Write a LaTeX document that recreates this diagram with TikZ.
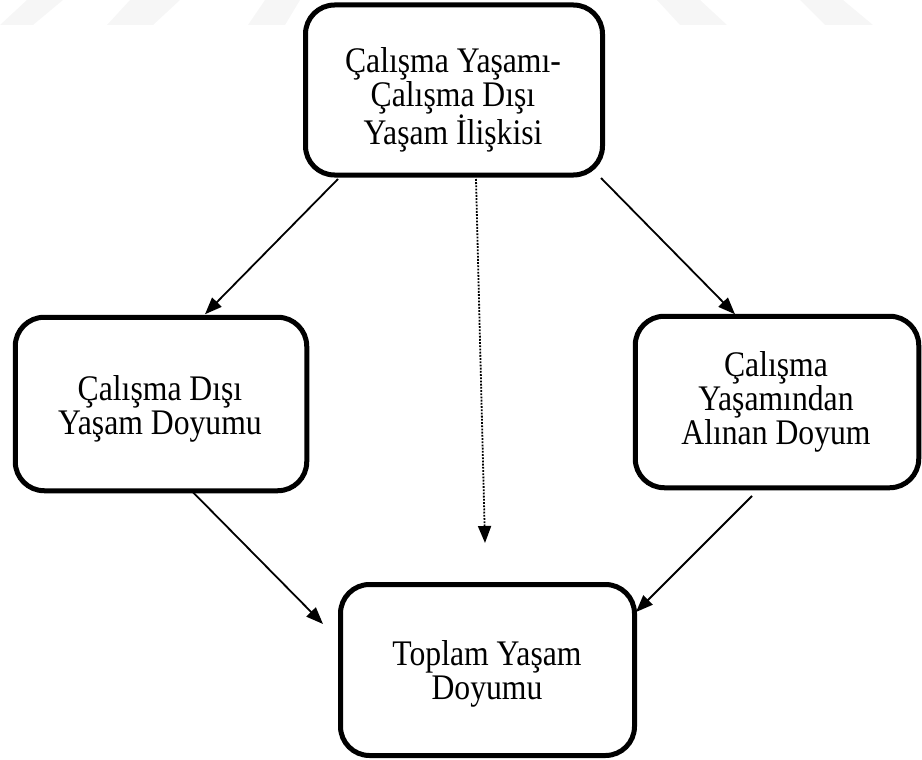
\documentclass[tikz,border=0pt]{standalone}
\usepackage{fontspec}
\setmainfont{Liberation Serif}[FakeStretch=0.88]
\usetikzlibrary{arrows.meta,calc}
\begin{document}
\begin{tikzpicture}[x=1pt,y=-1pt,
  box/.style={draw, line width=5pt, rounded corners=29pt,
    outer sep=0pt, inner sep=0pt},
  boxtext/.style={align=center, inner sep=0pt,
    font=\fontsize{36}{34}\selectfont},
  conn/.style={line width=1.8pt, -{Triangle[length=17pt,width=13pt]}},
  dotconn/.style={conn, dash pattern=on 1.8pt off 1.4pt},
  wmark/.style={fill=gray!7, draw=none}]
\useasboundingbox (0,0) rectangle (922,760);

% faint stripes along the top edge
\fill[wmark] (27,0) -- (63,0) -- (33,25) -- (0,25) -- cycle;
\fill[wmark] (130,0) -- (180,0) -- (153,25) -- (107,25) -- cycle;
\fill[wmark] (265,0) -- (300,0) -- (285,25) -- (248,25) -- cycle;
\fill[wmark] (657,0) -- (700,0) -- (727,25) -- (680,25) -- cycle;
\fill[wmark] (800,0) -- (843,0) -- (873,25) -- (825,25) -- cycle;

% boxes
\node[box, minimum width=297pt, minimum height=170pt] (top) at (454,90) {};
\node[box, minimum width=291.5pt, minimum height=173.5pt] (left) at (161,404) {};
\node[box, minimum width=283.5pt, minimum height=171.5pt] (right) at (777,402) {};
\node[box, minimum width=294pt, minimum height=171pt] (bottom) at (487.5,670) {};

% box labels
\node[boxtext] (toptext) at (453,100)
  {Çalışma Yaşamı-\\Çalışma Dışı\\Yaşam İlişkisi};
\node[boxtext] (lefttext) at (160,409)
  {Çalışma Dışı\\Yaşam Doyumu};
\node[boxtext] (righttext) at (776,402)
  {Çalışma\\Yaşamından\\Alınan Doyum};
\node[boxtext] (bottomtext) at (487,674)
  {Toplam Yaşam\\Doyumu};

% connectors
\draw[conn] ($(top.south west)+(32.5,4)$) -- ($(left.north)+(44,-3)$);
\draw[conn] ($(top.south east)+(-1.5,3)$) -- ($(right.north)+(-42,-2)$);
\draw[dotconn] ($(top.south)+(22,4)$) -- ($(bottom.north)+(-2.5,-41.5)$);
\draw[conn] ($(left.south)+(32,1.5)$) -- ($(bottom.west)+(-17.5,-46)$);
\draw[conn] ($(right.south)+(-25,8.25)$) -- ($(bottom.north east)+(1.5,27.5)$);
\end{tikzpicture}
\end{document}
